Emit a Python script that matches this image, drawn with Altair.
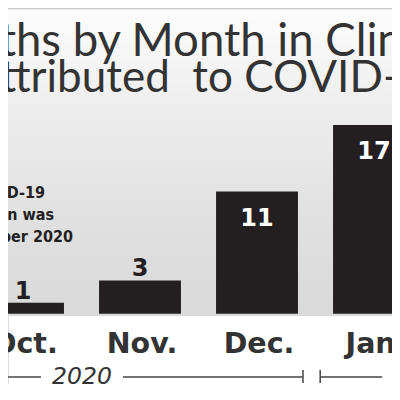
import altair as alt
import pandas as pd

# ---- data ----
months = ["Oct.", "Nov.", "Dec.", "Jan."]
deaths = [1, 3, 11, 17]

year_labels = ["2020", "2021"]
year_start = [-1.2, 2.54]
year_end = [2.393, 4.6]
year_label_pos = [0.504, 3.42]

title_lines = ["Deaths by Month in Clinton County", "Attributed\u00a0 to COVID-19"]
note_lines = ["First COVID-19", "death in Clinton was", "in October 2020"]

W, H = 384, 376
BAR_HALF = 0.35
GAP = 0.35  # half-width of gap in year line around label (index units)

x_scale = alt.Scale(domain=[-0.1282, 3.1538], nice=False, zero=False)
y_scale = alt.Scale(domain=[-6.33, 27.54], nice=False, zero=False)

bars_df = pd.DataFrame({
    "month": months,
    "deaths": deaths,
    "idx": list(range(len(months))),
})
bars_df["x0"] = bars_df["idx"] - BAR_HALF
bars_df["x1"] = bars_df["idx"] + BAR_HALF
bars_df["zero"] = 0
bars_df["inside"] = bars_df["deaths"] >= 10

seg_rows = []
tick_rows = []
for lab, s, e, p in zip(year_labels, year_start, year_end, year_label_pos):
    seg_rows.append({"a": s, "b": p - GAP})
    seg_rows.append({"a": p + GAP, "b": e})
    tick_rows.append({"t": s})
    tick_rows.append({"t": e})
seg_df = pd.DataFrame(seg_rows)
tick_df = pd.DataFrame(tick_rows)
year_df = pd.DataFrame({"year": year_labels, "pos": year_label_pos})

gradient = alt.Gradient(
    gradient="linear",
    stops=[
        alt.GradientStop(color="#fdfdfd", offset=0),
        alt.GradientStop(color="#ececec", offset=0.35),
        alt.GradientStop(color="#e0e0e0", offset=0.7),
        alt.GradientStop(color="#d9d9d9", offset=1),
    ],
    x1=0, x2=0, y1=0, y2=1,
)

bg = alt.Chart(pd.DataFrame({"k": [0]})).mark_rect(color=gradient).encode(
    x=alt.value(0), x2=alt.value(W), y=alt.value(1), y2=alt.value(308)
)
top_rule = alt.Chart(pd.DataFrame({"k": [0]})).mark_rule(color="#c8c8c8", strokeWidth=1.2).encode(
    x=alt.value(0), x2=alt.value(W), y=alt.value(0.6)
)

bars = alt.Chart(bars_df).mark_rect(color="#231f20", clip=True).encode(
    x=alt.X("x0:Q", scale=x_scale, axis=None),
    x2="x1:Q",
    y=alt.Y("deaths:Q", scale=y_scale, axis=None),
    y2="zero:Q",
)

val_out = alt.Chart(bars_df).transform_filter("!datum.inside").mark_text(
    font="DejaVu Sans", fontWeight="bold", fontSize=24, color="#231f20",
    baseline="alphabetic", dy=-4,
).encode(
    x=alt.X("idx:Q", scale=x_scale),
    y=alt.Y("deaths:Q", scale=y_scale),
    text="deaths:Q",
)
val_in = alt.Chart(bars_df).transform_filter("datum.inside").mark_text(
    font="DejaVu Sans", fontWeight="bold", fontSize=24, color="white",
    baseline="alphabetic", dy=34,
).encode(
    x=alt.X("idx:Q", scale=x_scale),
    y=alt.Y("deaths:Q", scale=y_scale),
    text="deaths:Q",
)

month_labels = alt.Chart(bars_df).mark_text(
    font="DejaVu Sans", fontWeight="bold", fontSize=28.5, color="#333333",
    baseline="alphabetic", dx=2,
).encode(
    x=alt.X("idx:Q", scale=x_scale),
    y=alt.value(345),
    text="month:N",
)

year_lines = alt.Chart(seg_df).mark_rule(color="#444444", strokeWidth=1.5, clip=True).encode(
    x=alt.X("a:Q", scale=x_scale),
    x2="b:Q",
    y=alt.value(369),
)
year_ticks = alt.Chart(tick_df).mark_rule(color="#444444", strokeWidth=1.5, clip=True).encode(
    x=alt.X("t:Q", scale=x_scale),
    y=alt.value(362),
    y2=alt.value(375),
)
year_text = alt.Chart(year_df).mark_text(
    font="DejaVu Sans", fontStyle="italic", fontSize=23.5, color="#333333",
    baseline="alphabetic",
).encode(
    x=alt.X("pos:Q", scale=x_scale),
    y=alt.value(376),
    text="year:N",
)

title1 = alt.Chart(pd.DataFrame({"t": [title_lines[0]]})).mark_text(
    font="Lato", fontSize=45.5, color="#333333", align="left", baseline="alphabetic",
).encode(x=alt.value(-89), y=alt.value(48), text="t:N")
title2 = alt.Chart(pd.DataFrame({"t": [title_lines[1]]})).mark_text(
    font="Lato", fontSize=44, color="#333333", align="left", baseline="alphabetic",
).encode(x=alt.value(-36), y=alt.value(84), text="t:N")

note_df = pd.DataFrame({"t": note_lines, "x": [37, 46, 65], "y": [190, 212, 234]})
notes = alt.Chart(note_df).mark_text(
    font="Liberation Sans Narrow, Arial Narrow, DejaVu Sans Condensed, Liberation Sans",
    fontWeight="bold", fontSize=16, color="#231f20", align="right", baseline="alphabetic",
).encode(
    x=alt.X("x:Q", scale=None),
    y=alt.Y("y:Q", scale=None),
    text="t:N",
)

chart = alt.layer(
    bg, top_rule, bars, val_out, val_in, month_labels,
    year_lines, year_ticks, year_text, title1, title2, notes,
).properties(
    width=W, height=H, padding=0, autosize=alt.AutoSizeParams(type="none"),
).configure_view(stroke=None).configure(background="white")

chart.save("out.html", embed_options={"renderer": "svg", "actions": False})
